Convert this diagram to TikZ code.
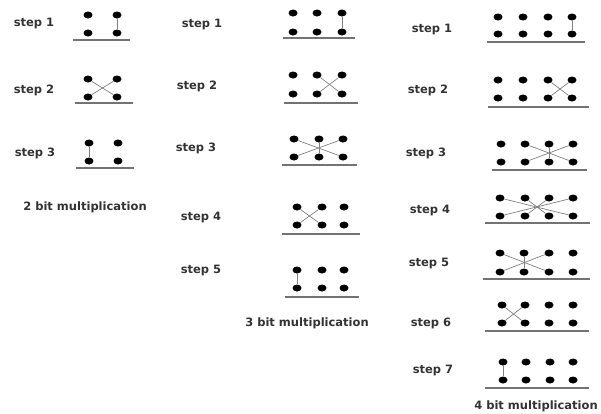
\documentclass[tikz,border=0pt]{standalone}
\usepackage{fontspec}
\newfontfamily\labfont{DejaVu Sans}
\usetikzlibrary{shapes.geometric}
\tikzset{
  dot/.style={ellipse, fill=black, minimum width=9pt, minimum height=7pt, inner sep=0pt},
  link/.style={draw=black!50, line width=0.7pt},
  base/.style={draw=black!55, line width=1.3pt},
  lbl/.style={font=\labfont\bfseries\fontsize{11.5}{13}\selectfont, text=black!80, inner sep=0pt},
}
\newcommand\stepdots[4]{%
  \foreach \xx [count=\i] in {#2} {
    \node[dot] (#1t\i) at (\xx,#3) {};
    \node[dot] (#1b\i) at (\xx,#4) {};
  }}
\newcommand\baseline[4]{%
  \coordinate (#1L) at (#2,#4);
  \coordinate (#1R) at (#3,#4);
  \draw[base] (#1L) -- (#1R);}
\newcommand\vlink[2]{\draw[link] (#1t#2) -- (#1b#2);}
\newcommand\xlink[3]{\draw[link] (#1t#2) -- (#1b#3); \draw[link] (#1t#3) -- (#1b#2);}
\begin{document}
\begin{tikzpicture}[x=1pt,y=-1pt]
\useasboundingbox (0,0) rectangle (601,413);
% ---------- 2 bit ----------
\node[lbl] (a1l) at (34,24) {step 1};
\stepdots{a1}{88,117}{15}{33}
\baseline{a1}{73}{130}{40}
\vlink{a1}{2}
\node[lbl] (a2l) at (34,90) {step 2};
\stepdots{a2}{88,117}{79}{97}
\baseline{a2}{75}{133}{103}
\xlink{a2}{1}{2}
\node[lbl] (a3l) at (35,153) {step 3};
\stepdots{a3}{89,118}{143}{161}
\baseline{a3}{76}{134}{168}
\vlink{a3}{1}
\node[lbl] (acap) at (85,207) {2 bit multiplication};
% ---------- 3 bit ----------
\node[lbl] (b1l) at (202,25) {step 1};
\stepdots{b1}{293,317,342}{13}{32}
\baseline{b1}{283}{355}{38}
\vlink{b1}{3}
\node[lbl] (b2l) at (197,86) {step 2};
\stepdots{b2}{293,317,342}{75}{94}
\baseline{b2}{284}{358}{103}
\xlink{b2}{2}{3}
\node[lbl] (b3l) at (196,148) {step 3};
\stepdots{b3}{294,319,343}{139}{157}
\baseline{b3}{282}{357}{165}
\xlink{b3}{1}{3}\vlink{b3}{2}
\node[lbl] (b4l) at (201,217) {step 4};
\stepdots{b4}{297,322,344}{207}{225}
\baseline{b4}{282}{360}{234}
\xlink{b4}{1}{2}
\node[lbl] (b5l) at (201,270) {step 5};
\stepdots{b5}{297,322,344}{270}{288}
\baseline{b5}{285}{359}{297}
\vlink{b5}{1}
\node[lbl] (bcap) at (307,323) {3 bit multiplication};
% ---------- 4 bit ----------
\node[lbl] (c1l) at (432,30) {step 1};
\stepdots{c1}{498,523,548,572}{17}{34}
\baseline{c1}{487}{585}{42}
\vlink{c1}{4}
\node[lbl] (c2l) at (428,90) {step 2};
\stepdots{c2}{498,523,548,572}{80}{98}
\baseline{c2}{488}{589}{107}
\xlink{c2}{3}{4}
\node[lbl] (c3l) at (426,153) {step 3};
\stepdots{c3}{501,525,549,573}{144}{162}
\baseline{c3}{492}{587}{170}
\xlink{c3}{2}{4}\vlink{c3}{3}
\node[lbl] (c4l) at (430,210) {step 4};
\stepdots{c4}{500,525,549,573}{198}{216}
\baseline{c4}{485}{590}{223}
\xlink{c4}{1}{4}\xlink{c4}{2}{3}
\node[lbl] (c5l) at (429,263) {step 5};
\stepdots{c5}{500,524,549,573}{253}{272}
\baseline{c5}{483}{590}{279}
\xlink{c5}{1}{3}\vlink{c5}{2}
\node[lbl] (c6l) at (431,323) {step 6};
\stepdots{c6}{502,525,549,573}{305}{323}
\baseline{c6}{485}{589}{331}
\xlink{c6}{1}{2}
\node[lbl] (c7l) at (433,370) {step 7};
\stepdots{c7}{503,526,550,573}{362}{380}
\baseline{c7}{485}{589}{388}
\vlink{c7}{1}
\node[lbl] (ccap) at (536,406) {4 bit multiplication};
\end{tikzpicture}
\end{document}
